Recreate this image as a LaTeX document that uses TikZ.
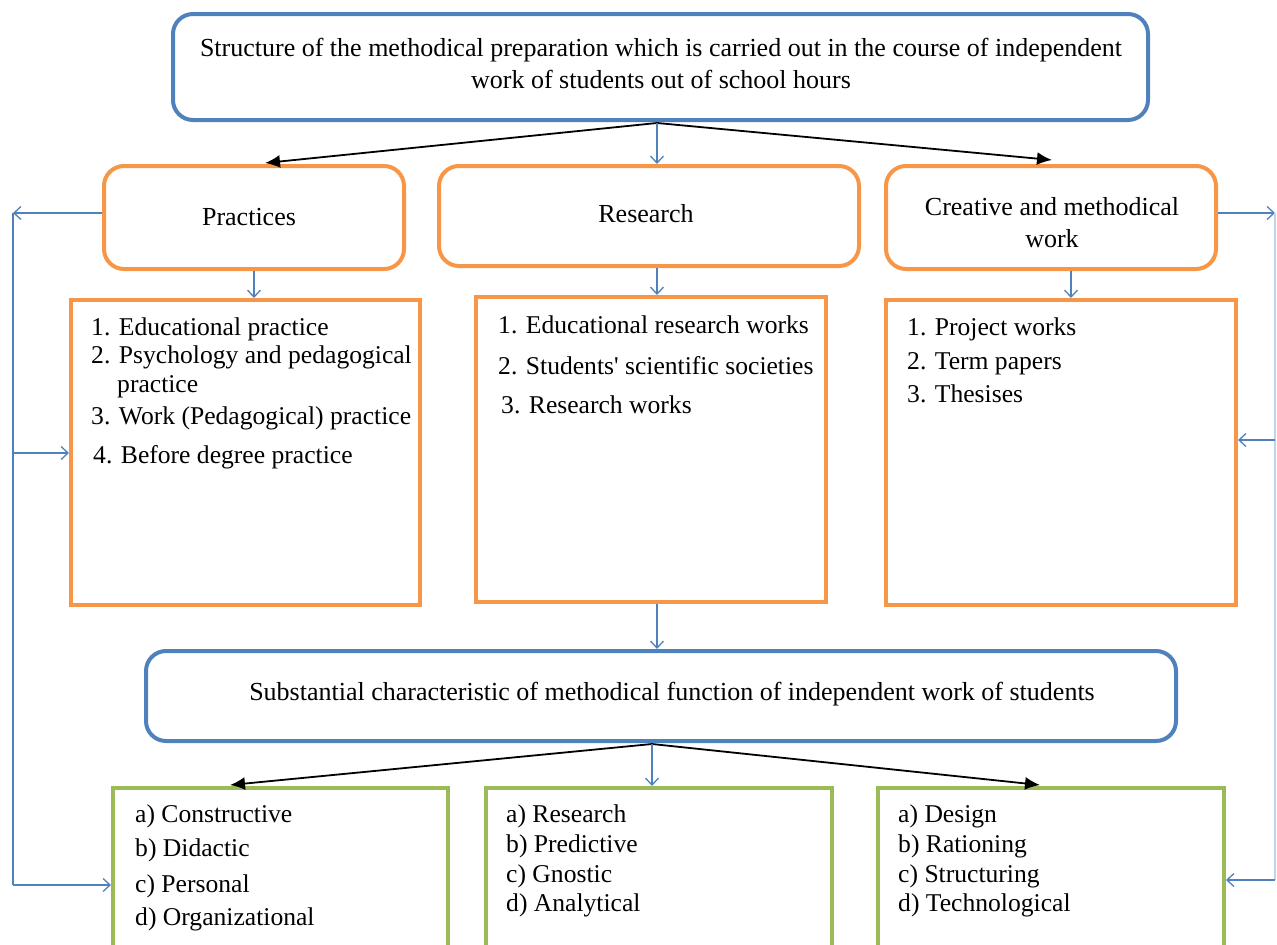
\documentclass[tikz,border=0pt]{standalone}
\usepackage{fontspec}
\setmainfont{Liberation Serif}
\usetikzlibrary{arrows.meta}
\definecolor{oblue}{HTML}{4F81BD}
\definecolor{oorange}{HTML}{F79646}
\definecolor{ogreen}{HTML}{9BBB59}
\tikzset{
  bluebox/.style={draw=oblue, line width=4pt, rounded corners=20pt, inner sep=0pt},
  orbox/.style={draw=oorange, line width=4pt, rounded corners=20pt, inner sep=0pt},
  orrect/.style={draw=oorange, line width=4pt, inner sep=0pt},
  grrect/.style={draw=ogreen, line width=4pt, inner sep=0pt},
  txt/.style={inner sep=0pt, font=\rmfamily\fontsize{26}{31}\selectfont, anchor=base},
  ltxt/.style={inner sep=0pt, font=\rmfamily\fontsize{25.6}{31}\selectfont, anchor=base west},
  blarrow/.style={draw=oblue, line width=1.3pt, -{Straight Barb[length=7pt,width=13pt]}},
  bline/.style={draw=oblue, line width=1.3pt},
  bkarrow/.style={draw=black, line width=1.8pt, -{Latex[length=15pt,width=13pt]}},
}
\begin{document}
\begin{tikzpicture}[x=1pt,y=-1pt]
\useasboundingbox (0,0) rectangle (1277,945);
\clip (0,0) rectangle (1277,945);
% boxes
\node[bluebox, minimum width=975pt, minimum height=106pt] (top) at (660.5,67) {};
\node[orbox, minimum width=300pt, minimum height=103pt] (prac) at (254,217.5) {};
\node[orbox, minimum width=420pt, minimum height=100pt] (res) at (649,216) {};
\node[orbox, minimum width=330pt, minimum height=103pt] (crea) at (1051,217.5) {};
\node[orrect, minimum width=349pt, minimum height=305pt] (lbox) at (245.5,452.5) {};
\node[orrect, minimum width=350pt, minimum height=305pt] (mbox) at (651,449.5) {};
\node[orrect, minimum width=350pt, minimum height=305pt] (rbox) at (1061,452.5) {};
\node[bluebox, minimum width=1030pt, minimum height=90pt] (subs) at (661,696) {};
\node[grrect, minimum width=335pt, minimum height=190pt] (g1) at (280.5,883) {};
\node[grrect, minimum width=346pt, minimum height=190pt] (g2) at (659,883) {};
\node[grrect, minimum width=346pt, minimum height=190pt] (g3) at (1051,883) {};
% texts
\node[txt] (tt1) at (661,56) {Structure of the methodical preparation which is carried out in the course of independent};
\node[txt] (tt2) at (661,88) {work of students out of school hours};
\node[txt] (tp) at (249,225) {Practices};
\node[txt] (tr) at (646,222) {Research};
\node[txt] (tc1) at (1052,215) {Creative and methodical};
\node[txt] (tc2) at (1052,247) {work};
\node[ltxt] (l1) at (91,335) {1. Educational practice};
\node[ltxt] (l2) at (91,363) {2. Psychology and pedagogical};
\node[ltxt] (l2b) at (117,392) {practice};
\node[ltxt] (l3) at (91,424) {3. Work (Pedagogical) practice};
\node[ltxt] (l4) at (93,463) {4. Before degree practice};
\node[ltxt] (m1) at (498,333) {1. Educational research works};
\node[ltxt] (m2) at (498,374) {2. Students\textquotesingle{} scientific societies};
\node[ltxt] (m3) at (501,413) {3. Research works};
\node[ltxt] (r1) at (907,335) {1. Project works};
\node[ltxt] (r2) at (907,369) {2. Term papers};
\node[ltxt] (r3) at (907,402) {3. Thesises};
\node[txt] (ts) at (672,700) {Substantial characteristic of methodical function of independent work of students};
\node[ltxt] (a1) at (135,822) {a) Constructive};
\node[ltxt] (a2) at (135,856) {b) Didactic};
\node[ltxt] (a3) at (135,892) {c) Personal};
\node[ltxt] (a4) at (135,925) {d) Organizational};
\node[ltxt] (b1) at (506,822) {a) Research};
\node[ltxt] (b2) at (506,852) {b) Predictive};
\node[ltxt] (b3) at (506,882) {c) Gnostic};
\node[ltxt] (b4) at (506,911) {d) Analytical};
\node[ltxt] (c1) at (898,822) {a) Design};
\node[ltxt] (c2) at (898,852) {b) Rationing};
\node[ltxt] (c3) at (898,882) {c) Structuring};
\node[ltxt] (c4) at (898,911) {d) Technological};
% connector coordinates
\coordinate (o1) at (657,123);
\coordinate (o2) at (652,744);
\coordinate (pl) at (13,213);
\coordinate (pll) at (13,453);
\coordinate (plb) at (13,885);
\coordinate (cr) at (1275,213);
\coordinate (crm) at (1275,440);
\coordinate (crb) at (1275,880);
% top arrows
\draw[bkarrow] (o1) -- (265,163);
\draw[bkarrow] (o1) -- (1052,160);
\draw[blarrow] (o1) -- (657,164);
% down arrows
\draw[blarrow] (254,271) -- (254,298);
\draw[blarrow] (657,268) -- (657,295);
\draw[blarrow] (1071,271) -- (1071,298);
\draw[blarrow] (657,604) -- (657,649);
% bottom arrows
\draw[bkarrow] (o2) -- (230,785);
\draw[bkarrow] (o2) -- (1040,785);
\draw[blarrow] (o2) -- (652,786);
% left loop
\draw[blarrow] (prac.west |- pl) -- (pl);
\draw[bline] (pl) -- (plb);
\draw[blarrow] (pll) -- (lbox.west |- pll);
\draw[blarrow] (plb) -- (g1.west |- plb);
% right loop
\draw[blarrow] (crea.east |- cr) -- (cr);
\draw[bline, draw=oblue!35] (cr) -- (crb);
\draw[blarrow] (crm) -- (rbox.east |- crm);
\draw[blarrow] (crb) -- (g3.east |- crb);
\end{tikzpicture}
\end{document}
